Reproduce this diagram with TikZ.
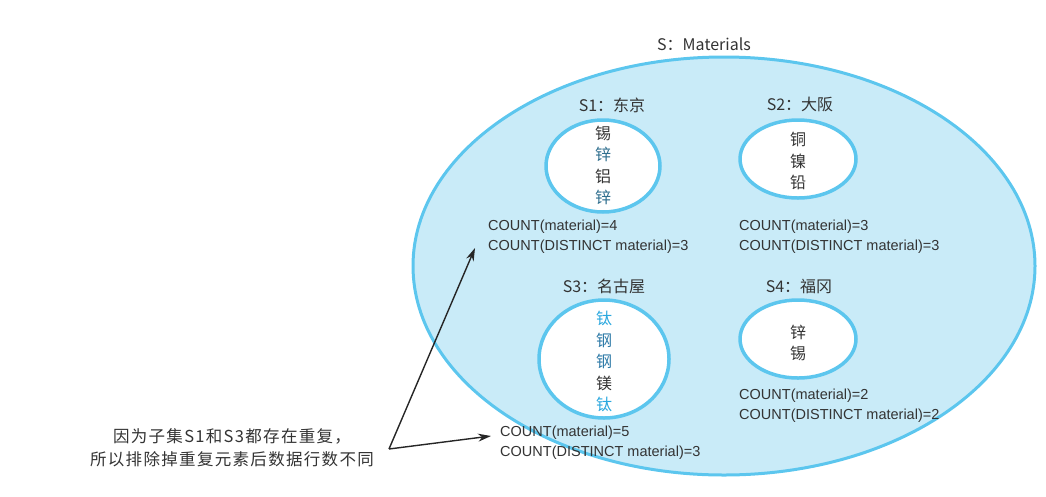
\documentclass[tikz,border=0pt]{standalone}
\usepackage{fontspec}
\setmainfont{Liberation Sans}
\newfontfamily\cjk{Noto Sans CJK SC}
\newfontfamily\cjkwide[LetterSpace=8]{Noto Sans CJK SC}
\usetikzlibrary{arrows.meta}
\definecolor{setfill}{HTML}{C9EBF8}
\definecolor{setline}{HTML}{5CC6EE}
\definecolor{txt}{HTML}{333333}
\definecolor{dblue}{HTML}{2E6E8E}
\definecolor{cyanb}{HTML}{2AA8DF}
\definecolor{mblue}{HTML}{2F7BA8}
\tikzset{
  bigset/.style={draw=setline, fill=setfill, line width=3pt},
  subset/.style={draw=setline, fill=white, line width=3.5pt},
  lbl/.style={inner sep=0pt, text=txt, font=\cjk\fontsize{16}{19}\selectfont},
  elems/.style={inner sep=0pt, text=txt, align=center, font=\cjk\fontsize{16}{21.5}\selectfont},
  cnt/.style={inner sep=0pt, text=txt, align=left, anchor=west, font=\fontsize{14.5}{20}\selectfont},
  note/.style={inner sep=0pt, text=txt, align=center, font=\cjkwide\fontsize{16.5}{23}\selectfont},
  arr/.style={draw=black!85, line width=1.4pt, -{Stealth[length=13pt,width=8pt]}}
}
\begin{document}
\begin{tikzpicture}[x=1pt,y=-1pt]
\useasboundingbox (0,0) rectangle (1046,496);
% big set
\draw[bigset] (724,266) ellipse [x radius=311, y radius=209];
\node[lbl] (sL) at (704,44) {S：Materials};
% subsets
\draw[subset] (603,166) ellipse [x radius=57, y radius=46];
\draw[subset] (798,159) ellipse [x radius=58, y radius=39];
\draw[subset] (604,359) ellipse [x radius=65, y radius=59];
\draw[subset] (798,339) ellipse [x radius=58, y radius=39];
% labels
\node[lbl] (s1L) at (612,105) {S1：东京};
\node[lbl] (s2L) at (800,104) {S2：大阪};
\node[lbl] (s3L) at (604,286) {S3：名古屋};
\node[lbl] (s4L) at (799,286) {S4：福冈};
% elements
\node[elems] (e1) at (603,165.5) {锡\\\textcolor{dblue}{锌}\\铝\\\textcolor{dblue}{锌}};
\node[elems] (e2) at (798,161) {铜\\镍\\铅};
\node[elems] (e3) at (604,361.5) {\textcolor{cyanb}{钛}\\\textcolor{mblue}{钢}\\\textcolor{mblue}{钢}\\镁\\\textcolor{cyanb}{钛}};
\node[elems] (e4) at (798,343) {锌\\锡};
% counts
\node[cnt] (c1) at (488,237) {COUNT(material)=4\\COUNT(DISTINCT material)=3};
\node[cnt] (c2) at (739,237) {COUNT(material)=3\\COUNT(DISTINCT material)=3};
\node[cnt] (c3) at (500,442.5) {COUNT(material)=5\\COUNT(DISTINCT material)=3};
\node[cnt] (c4) at (739,405.5) {COUNT(material)=2\\COUNT(DISTINCT material)=2};
% note
\node[note] (nt) at (232,448) {因为子集S1和S3都存在重复，\\所以排除掉重复元素后数据行数不同};
\coordinate (src) at (389,449);
\coordinate (t1) at (475,248);
\coordinate (t3) at (491,436);
\draw[arr] (src) -- (t1);
\draw[arr] (src) -- (t3);
\end{tikzpicture}
\end{document}
